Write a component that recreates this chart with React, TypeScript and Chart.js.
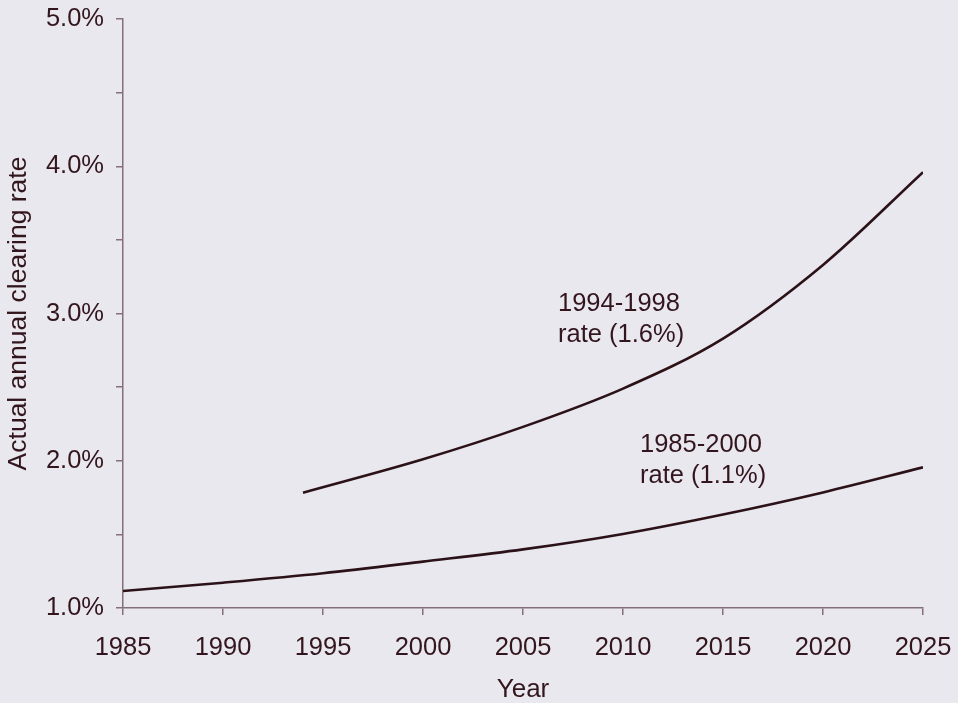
import React, { useEffect, useRef } from "react";
import { Chart, registerables } from "chart.js";

Chart.register(...registerables);

// ---- data ----
const lowerYears = [1985, 1990, 1995, 2000, 2005, 2010, 2015, 2020, 2025];
const lowerRates = [1.115, 1.172, 1.236, 1.315, 1.398, 1.503, 1.635, 1.785, 1.955];

const upperYears = [1994, 2000, 2005, 2010, 2015, 2020, 2025];
const upperRates = [1.783, 2.01, 2.23, 2.49, 2.83, 3.33, 3.96];

const xTickValues = [1985, 1990, 1995, 2000, 2005, 2010, 2015, 2020, 2025];
const yTickLabels = ["1.0%", "2.0%", "3.0%", "4.0%", "5.0%"];

const labelTexts = [
  ["1994-1998", "rate (1.6%)"],
  ["1985-2000", "rate (1.1%)"],
];
const labelYears = [2006.75, 2010.85];
const labelRates = [3.02, 2.06];

const xTitle = "Year";
const yTitle = "Actual annual clearing rate";

// ---- style ----
const BG = "#e9e8ee";
const TEXT = "#33161d";
const AXIS = "#85707a";
const LINE = "#2b1218";
const FONT = "'Liberation Sans', Arial, Helvetica, sans-serif";
const FS = 25.5;

const annotationPlugin = {
  id: "curveLabels",
  afterDatasetsDraw(chart: any) {
    const { ctx, scales } = chart;
    ctx.save();
    ctx.font = `${FS}px ${FONT}`;
    ctx.fillStyle = TEXT;
    ctx.textAlign = "left";
    ctx.textBaseline = "alphabetic";
    labelTexts.forEach((lines, i) => {
      const px = scales.x.getPixelForValue(labelYears[i]);
      const py = scales.y.getPixelForValue(labelRates[i]);
      lines.forEach((t, j) => ctx.fillText(t, px, py + j * 31));
    });
    ctx.restore();
  },
};

const zeroPad = (s: any) => {
  s.paddingTop = 0;
  s.paddingBottom = 0;
  s.paddingLeft = 0;
  s.paddingRight = 0;
};

export default function App() {
  const ref = useRef<HTMLCanvasElement | null>(null);

  useEffect(() => {
    if (!ref.current) return;
    const chart = new Chart(ref.current, {
      type: "line",
      data: {
        datasets: [
          {
            label: "1985-2000 rate (1.1%)",
            data: lowerYears.map((x, i) => ({ x, y: lowerRates[i] })),
            borderColor: LINE,
            borderWidth: 2.6,
            pointRadius: 0,
            cubicInterpolationMode: "monotone",
            fill: false,
          },
          {
            label: "1994-1998 rate (1.6%)",
            data: upperYears.map((x, i) => ({ x, y: upperRates[i] })),
            borderColor: LINE,
            borderWidth: 2.6,
            pointRadius: 0,
            cubicInterpolationMode: "monotone",
            fill: false,
          },
        ],
      },
      options: {
        responsive: false,
        animation: false,
        devicePixelRatio: 1,
        layout: { padding: { top: 19, right: 35, left: 0, bottom: 0 } },
        plugins: {
          legend: { display: false },
          tooltip: { enabled: false },
        },
        scales: {
          x: {
            type: "linear",
            min: 1985,
            max: 2025,
            afterFit: (s: any) => {
              s.height = 95;
              zeroPad(s);
            },
            afterBuildTicks: (s: any) => {
              s.ticks = xTickValues.map((v) => ({ value: v }));
            },
            ticks: {
              callback: (v: any) => String(v),
              color: TEXT,
              font: { family: FONT, size: FS },
              padding: 18,
              maxRotation: 0,
            },
            grid: {
              drawOnChartArea: false,
              drawTicks: true,
              tickLength: 7,
              color: AXIS,
              lineWidth: 1.5,
            },
            border: { display: true, color: AXIS, width: 1.5 },
            title: {
              display: true,
              text: xTitle,
              color: TEXT,
              font: { family: FONT, size: 26, lineHeight: 1 },
              padding: { top: 0, bottom: 0 },
            },
          },
          y: {
            type: "linear",
            min: 1,
            max: 5,
            afterFit: (s: any) => {
              s.width = 123;
              zeroPad(s);
            },
            ticks: {
              stepSize: 0.5,
              callback: (v: any) => {
                const n = Number(v);
                if (Math.abs(n - Math.round(n)) > 1e-6) return "";
                return yTickLabels[Math.round(n) - 1] ?? "";
              },
              color: TEXT,
              font: { family: FONT, size: FS },
              padding: 12,
            },
            grid: {
              drawOnChartArea: false,
              drawTicks: true,
              tickLength: 7,
              color: AXIS,
              lineWidth: 1.5,
            },
            border: { display: true, color: AXIS, width: 1.5 },
            title: {
              display: true,
              text: yTitle,
              color: TEXT,
              font: { family: FONT, size: 26.5, lineHeight: 1 },
              padding: { top: 5, bottom: 0 },
            },
          },
        },
      },
      plugins: [annotationPlugin],
    } as any);
    return () => chart.destroy();
  }, []);

  return (
    <div
      style={{
        position: "fixed",
        left: 0,
        top: 0,
        width: 958,
        height: 703,
        background: BG,
      }}
    >
      <canvas ref={ref} width={958} height={703} style={{ width: 958, height: 703 }} />
    </div>
  );
}
